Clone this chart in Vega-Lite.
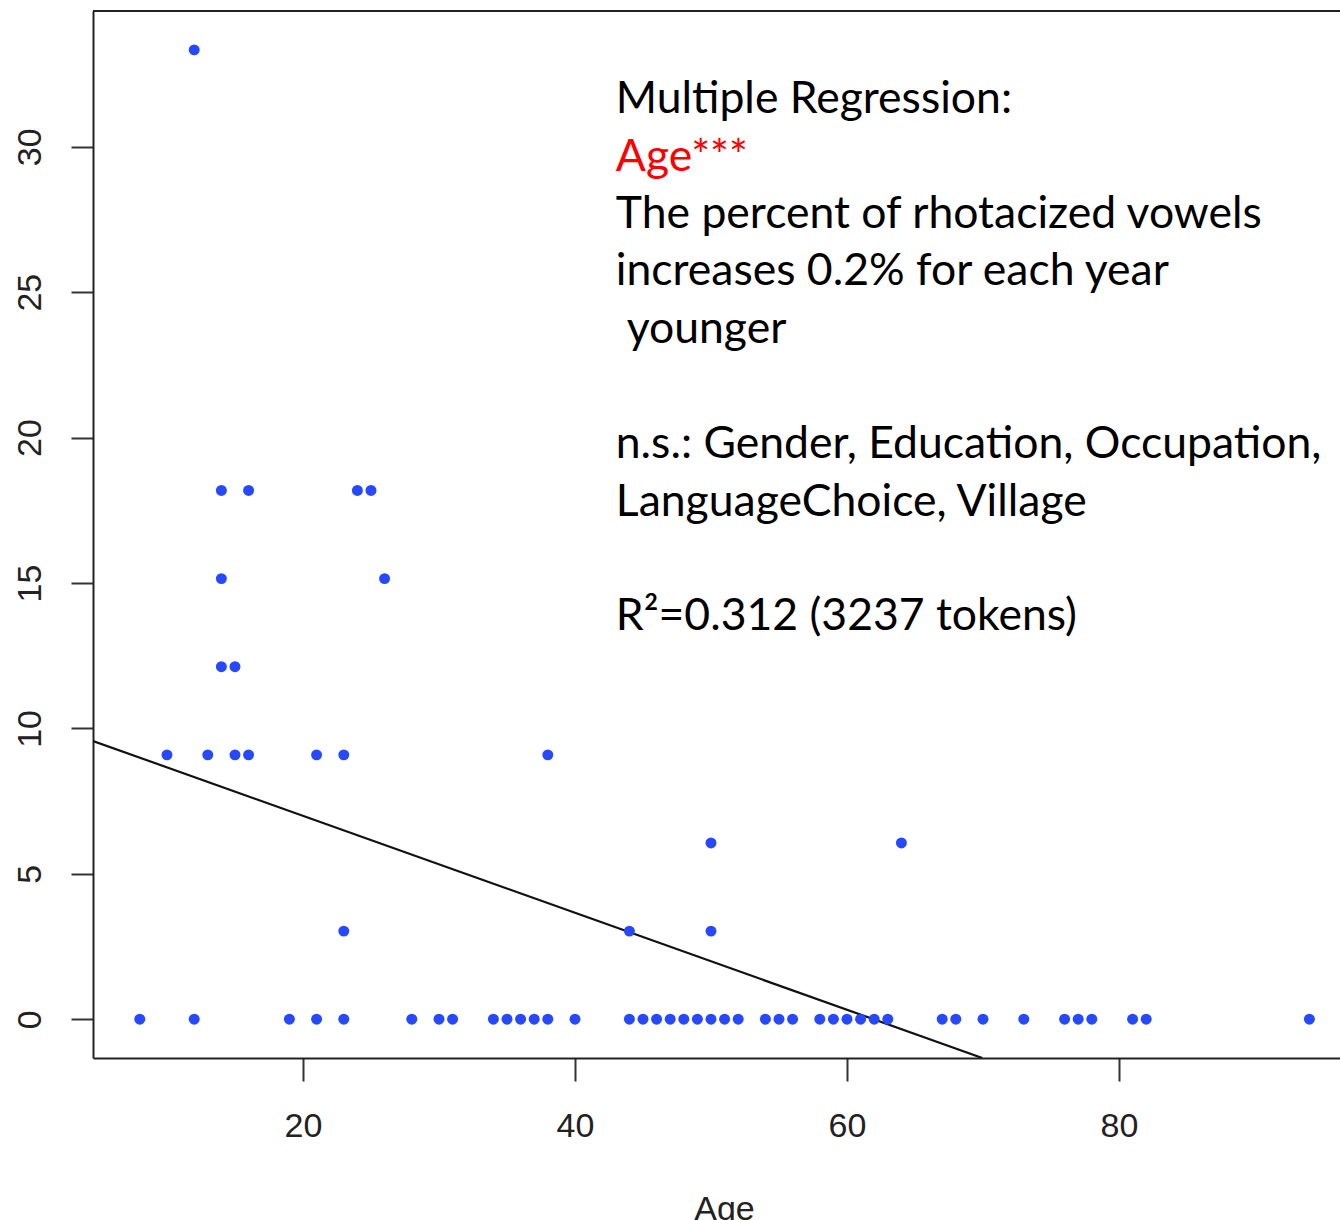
{
  "$schema": "https://vega.github.io/schema/vega-lite/v6.json",
  "width": 1247,
  "height": 1047,
  "autosize": {"type": "none"},
  "padding": {"left": 93, "top": 11, "right": 0, "bottom": 162},
  "background": "white",
  "config": {
    "view": {"stroke": null},
    "axis": {"grid": false}
  },
  "datasets": {
    "points": [
      {"age": 8, "val": 0}, {"age": 12, "val": 0}, {"age": 19, "val": 0}, {"age": 21, "val": 0},
      {"age": 23, "val": 0}, {"age": 28, "val": 0}, {"age": 30, "val": 0}, {"age": 31, "val": 0},
      {"age": 34, "val": 0}, {"age": 35, "val": 0}, {"age": 36, "val": 0}, {"age": 37, "val": 0},
      {"age": 38, "val": 0}, {"age": 40, "val": 0}, {"age": 44, "val": 0}, {"age": 45, "val": 0},
      {"age": 46, "val": 0}, {"age": 47, "val": 0}, {"age": 48, "val": 0}, {"age": 49, "val": 0},
      {"age": 50, "val": 0}, {"age": 51, "val": 0}, {"age": 52, "val": 0}, {"age": 54, "val": 0},
      {"age": 55, "val": 0}, {"age": 56, "val": 0}, {"age": 58, "val": 0}, {"age": 59, "val": 0},
      {"age": 60, "val": 0}, {"age": 61, "val": 0}, {"age": 62, "val": 0}, {"age": 63, "val": 0},
      {"age": 67, "val": 0}, {"age": 68, "val": 0}, {"age": 70, "val": 0}, {"age": 73, "val": 0},
      {"age": 76, "val": 0}, {"age": 77, "val": 0}, {"age": 78, "val": 0}, {"age": 81, "val": 0},
      {"age": 82, "val": 0}, {"age": 94, "val": 0},
      {"age": 23, "val": 3.03}, {"age": 44, "val": 3.03}, {"age": 50, "val": 3.03},
      {"age": 50, "val": 6.06}, {"age": 64, "val": 6.06},
      {"age": 10, "val": 9.09}, {"age": 13, "val": 9.09}, {"age": 15, "val": 9.09}, {"age": 16, "val": 9.09},
      {"age": 21, "val": 9.09}, {"age": 23, "val": 9.09}, {"age": 38, "val": 9.09},
      {"age": 14, "val": 12.12}, {"age": 15, "val": 12.12},
      {"age": 14, "val": 15.15}, {"age": 26, "val": 15.15},
      {"age": 14, "val": 18.18}, {"age": 16, "val": 18.18}, {"age": 24, "val": 18.18}, {"age": 25, "val": 18.18},
      {"age": 12, "val": 33.33}
    ],
    "fit": [
      {"age": 4.56, "val": 9.567},
      {"age": 69.95, "val": -1.333}
    ],
    "frame": [
      {"age": 4.56, "age2": 96.25, "val": 34.667}
    ],
    "notes": [
      {"age": 43.0, "val": 31.16, "line": "Multiple Regression:", "kind": "text"},
      {"age": 43.0, "val": 29.18, "line": "Age***", "kind": "sig"},
      {"age": 43.0, "val": 27.21, "line": "The percent of rhotacized vowels", "kind": "text"},
      {"age": 43.0, "val": 25.23, "line": "increases 0.2% for each year", "kind": "text"},
      {"age": 43.8, "val": 23.25, "line": "younger", "kind": "text"},
      {"age": 43.0, "val": 19.30, "line": "n.s.: Gender, Education, Occupation,", "kind": "text"},
      {"age": 43.0, "val": 17.32, "line": "LanguageChoice, Village", "kind": "text"},
      {"age": 43.0, "val": 13.37, "line": "R²=0.312 (3237 tokens)", "kind": "text"}
    ]
  },
  "encoding": {
    "x": {
      "field": "age",
      "type": "quantitative",
      "scale": {"domain": [4.56, 96.25], "nice": false, "zero": false},
      "axis": {
        "values": [20, 40, 60, 80],
        "title": "Age",
        "domainColor": "#222222",
        "domainWidth": 2,
        "tickColor": "#333333",
        "tickWidth": 2,
        "tickSize": 23,
        "labelFont": "Liberation Sans",
        "labelFontSize": 34,
        "labelColor": "#222222",
        "labelPadding": 28,
        "labelBaseline": "top",
        "labelFlush": false,
        "labelOverlap": false,
        "titleFont": "Liberation Sans",
        "titleFontSize": 34,
        "titleFontWeight": "normal",
        "titleColor": "#222222",
        "titleBaseline": "top",
        "titlePadding": 49,
        "titleX": 631,
        "titleAlign": "center"
      }
    },
    "y": {
      "field": "val",
      "type": "quantitative",
      "scale": {"domain": [-1.333, 34.667], "nice": false, "zero": false},
      "axis": {
        "values": [0, 5, 10, 15, 20, 25, 30],
        "title": null,
        "domainColor": "#222222",
        "domainWidth": 2,
        "tickColor": "#333333",
        "tickWidth": 2,
        "tickSize": 22,
        "labelFont": "Liberation Sans",
        "labelFontSize": 34,
        "labelColor": "#222222",
        "labelAngle": 270,
        "labelAlign": "center",
        "labelBaseline": "alphabetic",
        "labelPadding": 31,
        "labelFlush": false,
        "labelOverlap": false
      }
    }
  },
  "layer": [
    {
      "data": {"name": "frame"},
      "mark": {"type": "rule", "color": "#222222", "strokeWidth": 2},
      "encoding": {"x2": {"field": "age2"}}
    },
    {
      "data": {"name": "fit"},
      "mark": {"type": "line", "color": "#111111", "strokeWidth": 2.2, "clip": true},
      "encoding": {}
    },
    {
      "data": {"name": "points"},
      "mark": {"type": "circle", "size": 120, "opacity": 1, "color": "#2648ff"},
      "encoding": {}
    },
    {
      "data": {"name": "notes"},
      "mark": {"type": "text", "align": "left", "baseline": "alphabetic", "font": "Lato", "fontSize": 44.5},
      "encoding": {
        "text": {"field": "line"},
        "color": {
          "field": "kind",
          "type": "nominal",
          "scale": {"domain": ["text", "sig"], "range": ["#000000", "#ff0000"]},
          "legend": null
        }
      }
    }
  ]
}
